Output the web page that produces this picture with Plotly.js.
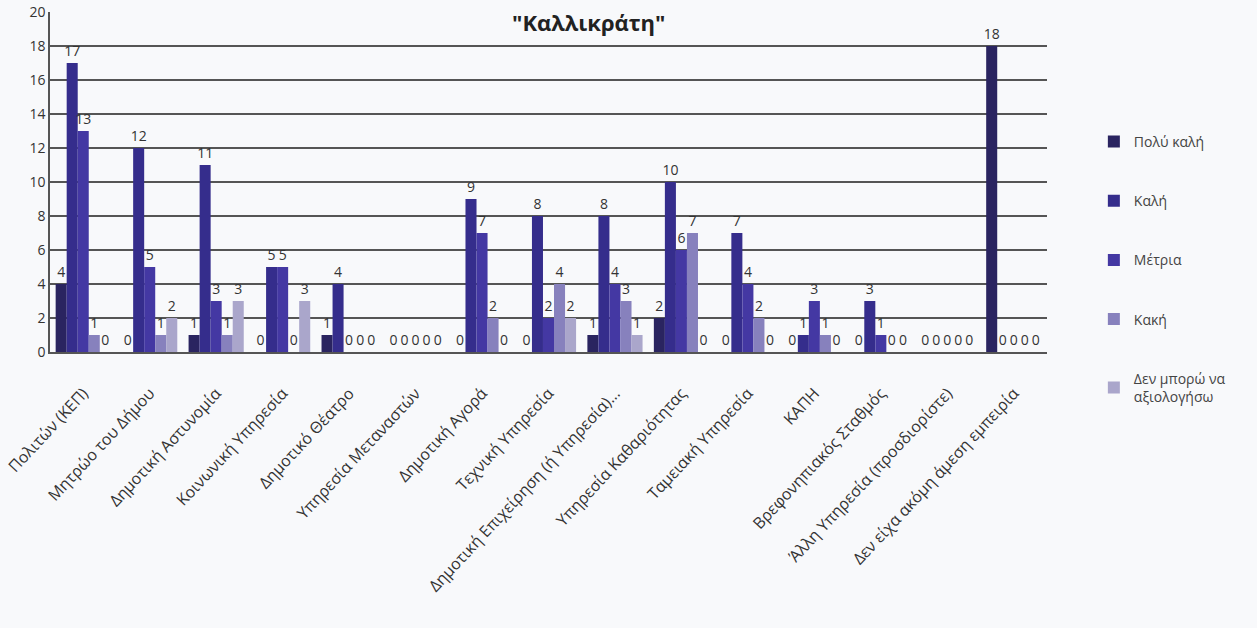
<!DOCTYPE html>
<html>
<head>
<meta charset="utf-8">
<script src="https://cdn.plot.ly/plotly-3.0.1.min.js"></script>
<style>html,body{margin:0;padding:0;background:#f8f9fb;}#chart{width:1257px;height:628px;}</style>
</head>
<body>
<div id="chart"></div>
<script>
const categories = [
  "Πολιτών (ΚΕΠ)",
  "Μητρώο του Δήμου",
  "Δημοτική Αστυνομία",
  "Κοινωνική Υπηρεσία",
  "Δημοτικό Θέατρο",
  "Υπηρεσία Μεταναστών",
  "Δημοτική Αγορά",
  "Τεχνική Υπηρεσία",
  "Δημοτική Επιχείρηση (ή Υπηρεσία)...",
  "Υπηρεσία Καθαριότητας",
  "Ταμειακή Υπηρεσία",
  "ΚΑΠΗ",
  "Βρεφονηπιακός Σταθμός",
  "Άλλη Υπηρεσία (προσδιορίστε)",
  "Δεν είχα ακόμη άμεση εμπειρία"
];
const seriesNames = ["Πολύ καλή", "Καλή", "Μέτρια", "Κακή", "Δεν μπορώ να<br>αξιολογήσω"];
const polyKali   = [4, 0, 1, 0, 1, 0, 0, 0, 1, 2, 0, 0, 0, 0, 18];
const kali       = [17, 12, 11, 5, 4, 0, 9, 8, 8, 10, 7, 1, 3, 0, 0];
const metria     = [13, 5, 3, 5, 0, 0, 7, 2, 4, 6, 4, 3, 1, 0, 0];
const kaki       = [1, 1, 1, 0, 0, 0, 2, 4, 3, 7, 2, 1, 0, 0, 0];
const denMporo   = [0, 2, 3, 3, 0, 0, 0, 2, 1, 0, 0, 0, 0, 0, 0];
const yTicks = [0, 2, 4, 6, 8, 10, 12, 14, 16, 18, 20];

const seriesValues = [polyKali, kali, metria, kaki, denMporo];
const colors = ["#2a2460", "#352d8c", "#4438a3", "#8781bd", "#aaa6cb"];

const traces = seriesValues.map((vals, i) => ({
  type: "bar",
  name: seriesNames[i],
  x: categories,
  y: vals,
  marker: {color: colors[i]},
  text: vals.map(String),
  textposition: "outside",
  constraintext: "none",
  textfont: {family: "Open Sans", size: 14, color: "#333"},
  cliponaxis: false,
  legendgroup: "g" + i
}));

const layout = {
  width: 1257, height: 628,
  paper_bgcolor: "#f8f9fb",
  plot_bgcolor: "#f8f9fb",
  font: {family: "Open Sans", color: "#333"},
  margin: {l: 50, r: 210, t: 12, b: 276},
  barmode: "group",
  bargap: 0.17,
  bargroupgap: 0,
  showlegend: true,
  legend: {
    x: 1.047, y: 0.665, xanchor: "left", yanchor: "top",
    font: {size: 14, color: "#444"},
    traceorder: "grouped",
    tracegroupgap: 38,
    itemwidth: 30,
    bgcolor: "rgba(0,0,0,0)"
  },
  xaxis: {
    type: "category",
    tickangle: -47,
    tickfont: {size: 16, color: "#333"},
    showline: true, linecolor: "#555", linewidth: 1.5,
    ticks: "outside", ticklen: 24, tickcolor: "rgba(0,0,0,0)"
  },
  yaxis: {
    range: [0, 20],
    tickvals: yTicks,
    ticktext: yTicks.map(String),
    tickfont: {size: 14, color: "#333"},
    showgrid: true, gridcolor: "#555", gridwidth: 1.5,
    showline: true, linecolor: "#555", linewidth: 1.5,
    zeroline: false
  },
  annotations: [{
    text: "<b>\"Καλλικράτη\"</b>",
    xref: "paper", yref: "paper",
    x: 0.54, y: 0.97, xanchor: "center", yanchor: "middle",
    showarrow: false,
    font: {size: 22, color: "#222", family: "Open Sans"}
  }]
};

Plotly.newPlot("chart", traces, layout, {displayModeBar: false});
</script>
</body>
</html>
